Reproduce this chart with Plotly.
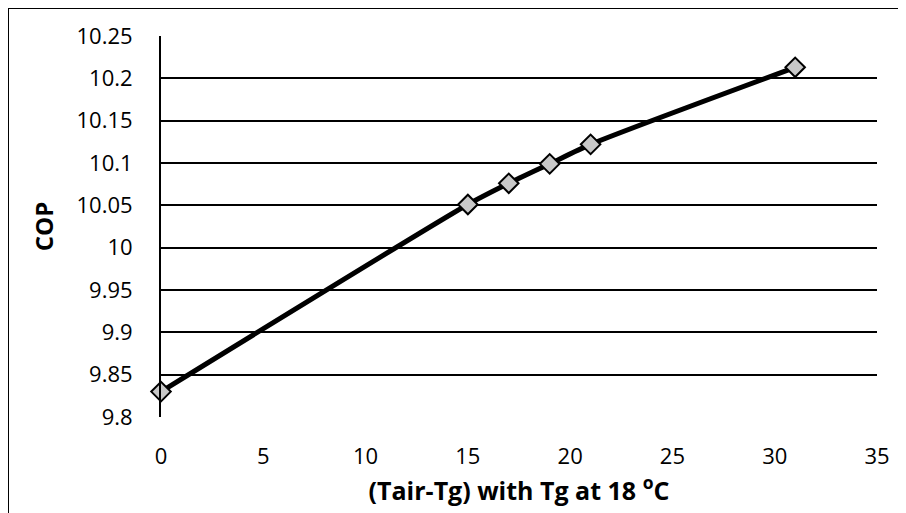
import plotly.graph_objects as go

# Data
delta_t = [0, 15, 17, 19, 21, 31]
cop = [9.83, 10.051, 10.076, 10.099, 10.122, 10.213]

y_ticks = [9.8, 9.85, 9.9, 9.95, 10, 10.05, 10.1, 10.15, 10.2, 10.25]
x_ticks = [0, 5, 10, 15, 20, 25, 30, 35]

font_family = "Open Sans, Liberation Sans, sans-serif"

fig = go.Figure(go.Scatter(
    x=delta_t,
    y=cop,
    mode="lines+markers",
    line=dict(color="black", width=5, shape="spline", smoothing=0.6),
    marker=dict(symbol="diamond", size=15, color="#c8c8c8",
                line=dict(color="black", width=2)),
    cliponaxis=False,
    showlegend=False,
))

# figure size / plot area in pixels (page body adds an 8px offset)
W, H = 898, 505
L, R, T, B = 153, 29, 28, 96
pw, ph = W - L - R, H - T - B

def px_x(p):
    return (p - L) / pw

def px_y(p):
    return (H - B - p) / ph

# outer chart border (left and top edges visible)
fig.add_shape(type="line", xref="paper", yref="paper",
              x0=px_x(0), x1=px_x(905), y0=px_y(0), y1=px_y(0),
              line=dict(color="black", width=2))
fig.add_shape(type="line", xref="paper", yref="paper",
              x0=px_x(0), x1=px_x(0), y0=px_y(0), y1=px_y(510),
              line=dict(color="black", width=2))

fig.update_xaxes(
    range=[0, 35],
    tickvals=x_ticks,
    ticks="",
    showgrid=False,
    showline=False,
    zeroline=False,
    ticklabelstandoff=24,
    tickfont=dict(size=22, color="black", family=font_family),
    title=dict(text="(Tair-Tg) with Tg at 18 <sup>o</sup>C",
               font=dict(size=25, color="black", family=font_family, weight="bold"),
               standoff=0),
)
fig.update_yaxes(
    range=[9.8, 10.25],
    tickvals=y_ticks,
    ticktext=[f"{v:g}" for v in y_ticks],
    ticks="",
    showgrid=True,
    gridcolor="black",
    gridwidth=1.5,
    showline=True,
    linecolor="black",
    linewidth=2,
    zeroline=False,
    ticklabelstandoff=22,
    tickfont=dict(size=22, color="black", family=font_family),
    title=dict(text="COP",
               font=dict(size=24, color="black", family=font_family, weight="bold"),
               standoff=16),
)

fig.update_layout(
    width=W,
    height=H,
    margin=dict(l=L, r=R, t=T, b=B),
    paper_bgcolor="white",
    plot_bgcolor="white",
)

fig.write_html("out.html")
